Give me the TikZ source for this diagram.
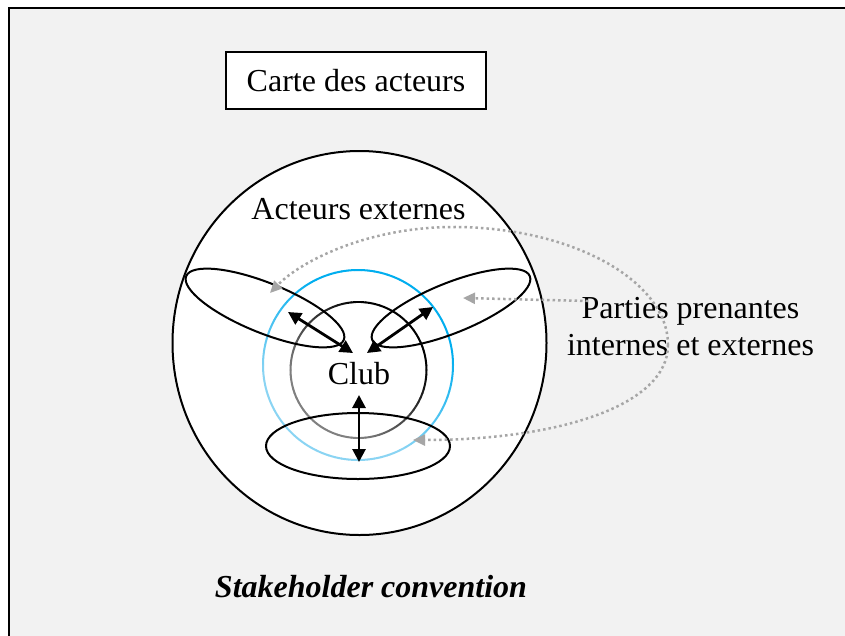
\documentclass[tikz,border=0pt]{standalone}
\usepackage{fontspec}
\setmainfont{Liberation Serif}
\usetikzlibrary{arrows.meta}
\definecolor{bgc}{HTML}{F2F2F2}
\definecolor{bluedeep}{HTML}{00AEEF}
\definecolor{bluelight}{HTML}{8AD4F3}
\definecolor{dotg}{HTML}{A6A6A6}
\definecolor{midg}{HTML}{808080}
\begin{document}
\begin{tikzpicture}[x=1pt,y=-1pt,
  txt/.style={font=\fontsize{32}{37}\selectfont, inner sep=0pt},
  grp/.style={draw=black, line width=2pt},
  link/.style={line width=2.8pt, {Triangle[length=13pt,width=13pt]}-{Triangle[length=13pt,width=13pt]}},
  dotlink/.style={draw=dotg, line width=2.5pt, dash pattern=on 2.5pt off 3pt, -{Triangle[length=12pt,width=11pt]}}]
\useasboundingbox (0,0) rectangle (845,635);
\clip (0,0) rectangle (845,635);
\fill[white] (0,0) rectangle (845,635);
\draw[fill=bgc, line width=1.6pt] (9,8) rectangle (880,680);

\node[txt, draw, line width=1.8pt, fill=white, minimum width=260pt, minimum height=57pt] (carte) at (356,80.5) {Carte des acteurs};

% outer circle
\coordinate (O) at (359.5,343);
\draw[grp, fill=white] (O) ellipse[x radius=187pt, y radius=192pt];

% blue circle (shaded stroke)
\foreach \a in {0,4,...,356}{
  \pgfmathsetmacro\w{min(100,max(0,50+90*sin(\a+30)))}
  \draw[line width=2pt, line cap=round, color=bluedeep!\w!bluelight]
    ({358+95*cos(\a)},{365-95*sin(\a)}) arc[start angle=\a, end angle=\a+4, radius=95pt];
}
% club circle
\foreach \a in {0,4,...,356}{
  \pgfmathsetmacro\w{min(100,max(0,50+70*sin(\a+45)))}
  \draw[line width=2pt, line cap=round, color=black!\w!midg]
    ({358.5+68*cos(\a)},{370-68*sin(\a)}) arc[start angle=\a, end angle=\a+4, radius=68pt];
}

% stakeholder groups
\coordinate (E1) at (265,308);
\coordinate (E2) at (451,308);
\coordinate (E3) at (358,446);
\draw[grp, rotate around={-22:(E1)}] (E1) ellipse [x radius=85pt, y radius=25pt];
\draw[grp, rotate around={22:(E2)}] (E2) ellipse [x radius=85pt, y radius=25pt];
\draw[grp] (E3) ellipse [x radius=92pt, y radius=33pt];

% arrows
\coordinate (tl1) at (288,312);
\coordinate (tl2) at (353,353);
\coordinate (tr1) at (367,353);
\coordinate (tr2) at (433,307);
\coordinate (b1) at (359,395);
\coordinate (b2) at (359,462);
\draw[link] (tl1) -- (tl2);
\draw[link] (tr1) -- (tr2);
\draw[link] (b1) -- (b2);

% texts
\node[txt] (ext) at (358.5,209) {Acteurs externes};
\node[txt] (club) at (359,374) {Club};
\node[txt, align=center] (pp) at (690.5,326.5) {Parties prenantes\\internes et externes};
\node[txt, font=\fontsize{32}{37}\selectfont\bfseries\itshape] (sc) at (371,587) {Stakeholder convention};

% dotted links
\coordinate (r) at (668,345);
\coordinate (a1) at (270,293);
\coordinate (a2) at (413,440);
\coordinate (a3) at (463,298);
\coordinate (ps) at (588,301);
\draw[dotlink] (r) .. controls (668,280) and (570,226) .. (450,227) .. controls (365,228) and (300,262) .. (a1);
\draw[dotlink] (r) .. controls (668,405) and (560,440) .. (a2);
\draw[dotlink] (ps) -- (a3);
\end{tikzpicture}
\end{document}
